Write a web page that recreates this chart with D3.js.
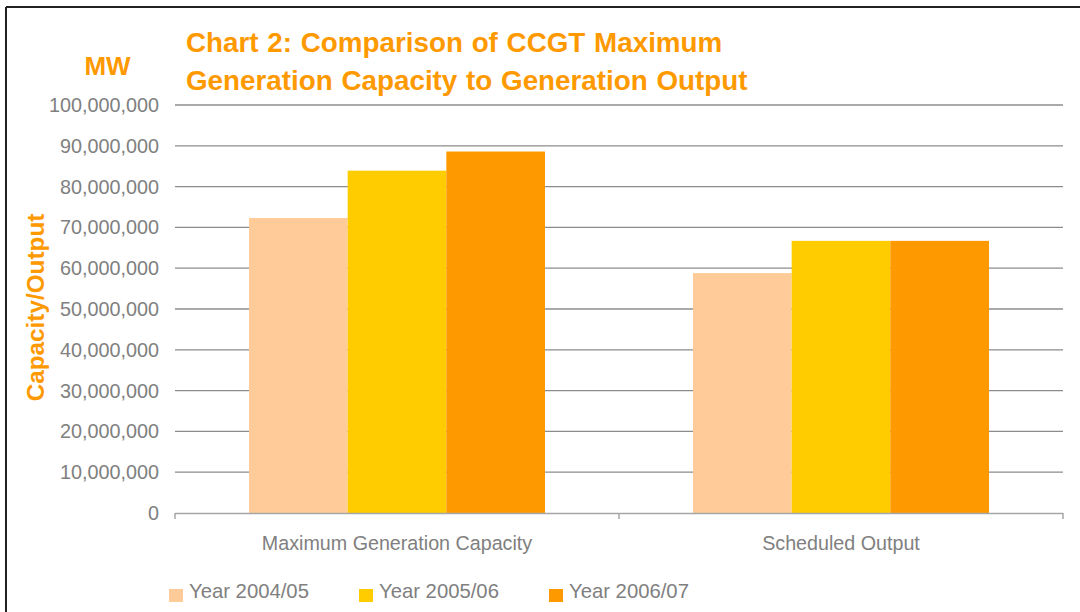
<!DOCTYPE html>
<html>
<head>
<meta charset="utf-8">
<script src="https://cdn.jsdelivr.net/npm/d3@7"></script>
<style>
  html, body { margin: 0; padding: 0; background: #fff; }
  svg { display: block; font-family: "Liberation Sans", Arial, sans-serif; }
</style>
</head>
<body>
<svg id="chart" width="1080" height="612"></svg>
<script>
const categories = ["Maximum Generation Capacity", "Scheduled Output"];
const seriesNames = ["Year 2004/05", "Year 2005/06", "Year 2006/07"];
const year0405 = [72300000, 58800000];
const year0506 = [83900000, 66700000];
const year0607 = [88600000, 66700000];
const seriesValues = [year0405, year0506, year0607];
const seriesColors = ["#FFCC99", "#FFCC00", "#FF9900"];
const yTicks = [0, 10000000, 20000000, 30000000, 40000000, 50000000, 60000000, 70000000, 80000000, 90000000, 100000000];
const titleLines = ["Chart 2: Comparison of CCGT Maximum", "Generation Capacity to Generation Output"];

const svg = d3.select("#chart");
const orange = "#FF9900";
const gray = "#808080";

// frame
svg.append("line").attr("x1", 6).attr("x2", 1080).attr("y1", 7).attr("y2", 7)
  .attr("stroke", "#222").attr("stroke-width", 2);
svg.append("line").attr("x1", 6).attr("x2", 6).attr("y1", 7).attr("y2", 612)
  .attr("stroke", "#222").attr("stroke-width", 2);

const x0 = d3.scaleBand().domain(categories).range([175, 1063]).paddingInner(0).paddingOuter(0);
const gapFrac = 1.5 / (3 + 1.5) / 2;
const x1 = d3.scaleBand().domain(d3.range(seriesNames.length))
  .range([x0.bandwidth() * gapFrac, x0.bandwidth() * (1 - gapFrac)]).padding(0);
const y = d3.scaleLinear().domain([0, 100000000]).range([513, 105]);

// gridlines
svg.append("g").selectAll("line").data(yTicks.filter(d => d > 0)).join("line")
  .attr("x1", 175).attr("x2", 1063)
  .attr("y1", d => y(d)).attr("y2", d => y(d))
  .attr("stroke", "#8c8c8c").attr("stroke-width", 1.3);

// y axis labels
const fmt = d3.format(",");
svg.append("g").selectAll("text").data(yTicks).join("text")
  .attr("x", 159).attr("y", d => y(d) + 7)
  .attr("text-anchor", "end").attr("fill", gray)
  .attr("font-size", "19.8px")
  .text(d => fmt(d));

// bars
const groups = svg.append("g").selectAll("g").data(categories).join("g")
  .attr("transform", c => `translate(${x0(c)},0)`);
groups.selectAll("rect").data((c, ci) => seriesValues.map((s, si) => ({si, v: s[ci]}))).join("rect")
  .attr("x", d => x1(d.si))
  .attr("width", x1.bandwidth())
  .attr("y", d => y(d.v))
  .attr("height", d => y(0) - y(d.v))
  .attr("fill", d => seriesColors[d.si]);

// x axis
const xAxis = svg.append("g");
xAxis.append("line").attr("x1", 175).attr("x2", 1063).attr("y1", 513.5).attr("y2", 513.5)
  .attr("stroke", "#a6a6a6").attr("stroke-width", 1.5);
const tickXs = [x0.range()[0]].concat(categories.map(c => x0(c) + x0.bandwidth()));
xAxis.selectAll("line.tick").data(tickXs).join("line").attr("class", "tick")
  .attr("x1", d => d).attr("x2", d => d).attr("y1", 513).attr("y2", 519)
  .attr("stroke", "#a6a6a6").attr("stroke-width", 1.5);
xAxis.selectAll("text").data(categories).join("text")
  .attr("x", c => x0(c) + x0.bandwidth() / 2).attr("y", 550)
  .attr("text-anchor", "middle").attr("fill", gray)
  .attr("font-size", "19.7px")
  .text(c => c);

// titles
svg.append("g").selectAll("text").data(titleLines).join("text")
  .attr("x", 186).attr("y", (d, i) => 52 + i * 38)
  .attr("fill", orange).attr("font-weight", "bold").attr("font-size", "27.8px")
  .attr("word-spacing", "1px")
  .text(d => d);
svg.append("text").attr("x", 107.5).attr("y", 75).attr("text-anchor", "middle")
  .attr("fill", orange).attr("font-weight", "bold").attr("font-size", "26px").text("MW");
svg.append("text").attr("transform", "translate(43.5,307.5) rotate(-90)")
  .attr("text-anchor", "middle").attr("fill", orange).attr("font-weight", "bold")
  .attr("font-size", "24.3px").text("Capacity/Output");

// legend
const lg = svg.append("g").selectAll("g").data(seriesNames).join("g")
  .attr("transform", (d, i) => `translate(${169 + i * 190},0)`);
lg.append("rect").attr("x", 0).attr("y", 589).attr("width", 14).attr("height", 13)
  .attr("fill", (d, i) => seriesColors[i]);
lg.append("text").attr("x", 20).attr("y", 598).attr("fill", gray)
  .attr("font-size", "20.3px").text(d => d);
</script>
</body>
</html>
